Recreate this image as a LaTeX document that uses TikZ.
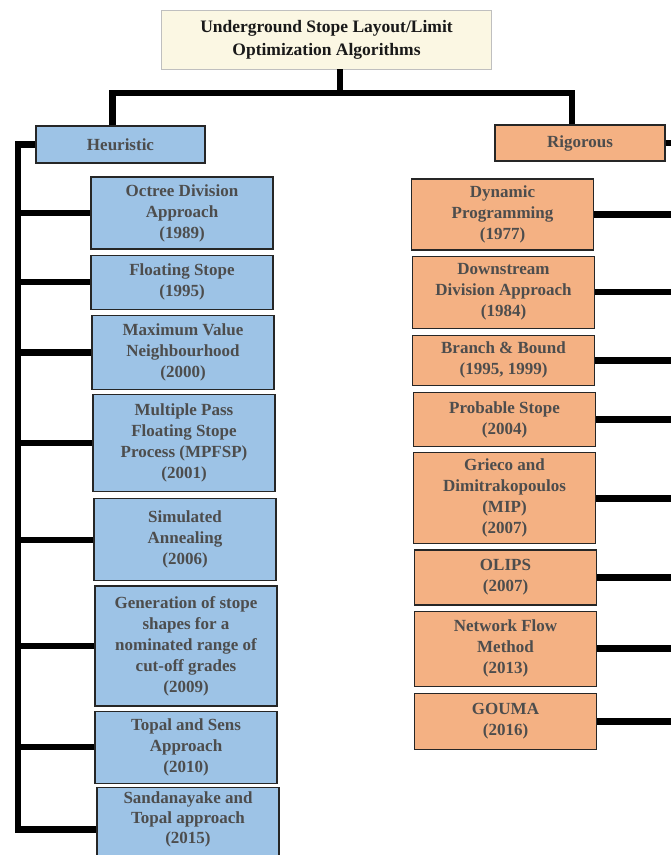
\documentclass[tikz,border=0pt]{standalone}
\usepackage{fontspec}
\setmainfont{Liberation Serif}
\usetikzlibrary{positioning}

\definecolor{heurblue}{HTML}{9DC3E6}
\definecolor{rigsalmon}{HTML}{F4B183}
\definecolor{titlecream}{HTML}{FBF7E3}
\definecolor{boxtext}{HTML}{4D4D4D}

\begin{document}
\begin{tikzpicture}[
    x = 1pt, y = -1pt, % pixel units, y running down
    font = \bfseries\fontsize{17}{21}\selectfont,
    link/.style = {draw, line width = 6.5pt}, % thick black tree lines
    line join = miter
    ]

    \tikzset{algo/.style = {
    draw = black!85,
    line width = 1.2pt,
    fill = white,
    text = boxtext,
    align = center,
    inner sep = 0pt,
    minimum width = 182pt
    }}
    \tikzset{heur/.style = {algo, fill = heurblue}}
    \tikzset{rig/.style = {algo, fill = rigsalmon}}

    \useasboundingbox (0,0) rectangle (671,855);

    % root and the two families
    \node[draw = black!25, fill = titlecream, text = black!90, align = center,
          minimum width = 330pt, minimum height = 59pt,
          font = \bfseries\fontsize{17.5}{23}\selectfont] (root) at (326.5,39.5)
          {Underground Stope Layout/Limit\\Optimization Algorithms};
    \node[heur, minimum width = 169pt, minimum height = 37pt] (heu) at (120.5,144.5) {Heuristic};
    \node[rig, minimum width = 170pt, minimum height = 36pt] (rig) at (580,143) {Rigorous};

    % heuristic column
    \node[heur, minimum height = 72pt] (oct) at (182,213) {Octree Division\\Approach\\(1989)};
    \node[heur, minimum height = 54pt] (flo) [below = 5pt of oct] {Floating Stope\\(1995)};
    \node[heur, minimum height = 74pt] (mvn) [below = 5pt of flo, xshift = 1pt] {Maximum Value\\Neighbourhood\\(2000)};
    \node[heur, minimum height = 97pt] (mpf) [below = 4pt of mvn, xshift = 1pt] {Multiple Pass\\Floating Stope\\Process (MPFSP)\\(2001)};
    \node[heur, minimum height = 82pt] (sim) [below = 6pt of mpf, xshift = 1pt] {Simulated\\Annealing\\(2006)};
    \node[heur, minimum height = 120pt] (gen) [below = 4pt of sim, xshift = 1pt] {Generation of stope\\shapes for a\\nominated range of\\cut-off grades\\(2009)};
    \node[heur, minimum height = 72pt] (tsa) [below = 4pt of gen] {Topal and Sens\\Approach\\(2010)};
    \node[heur, minimum height = 84pt, font = \bfseries\fontsize{17}{20}\selectfont] (sta) [below = 3pt of tsa, xshift = 2pt]
          {Sandanayake and\\Topal approach\\(2015)\\[4pt]};

    % rigorous column
    \node[rig, minimum height = 71pt] (dyn) at (502.5,214.5) {Dynamic\\Programming\\(1977)};
    \node[rig, minimum height = 72pt] (dda) [below = 5pt of dyn, xshift = 1pt] {Downstream\\Division Approach\\(1984)};
    \node[rig, minimum height = 50pt] (bab) [below = 6pt of dda] {Branch \& Bound\\(1995, 1999)};
    \node[rig, minimum height = 54pt] (pst) [below = 6pt of bab, xshift = 1pt] {Probable Stope\\(2004)};
    \node[rig, minimum height = 91pt] (gad) [below = 5pt of pst] {Grieco and\\Dimitrakopoulos\\(MIP)\\(2007)};
    \node[rig, minimum height = 55pt] (oli) [below = 5pt of gad, xshift = 1pt] {OLIPS\\(2007)};
    \node[rig, minimum height = 75pt] (nfm) [below = 5pt of oli] {Network Flow\\Method\\(2013)};
    \node[rig, minimum height = 56pt] (gou) [below = 6pt of nfm] {GOUMA\\(2016)};

    % tree lines
    \coordinate (fork) at (340,93);
    \coordinate (ltrunk) at (18,0);
    \coordinate (rtrunk) at (675,0);

    \draw[link] (fork |- root.south) -- (fork);
    \draw[link] ([xshift = -8pt]heu.north) |- (fork) -| ([xshift = -8pt]rig.north);

    \draw[link] (heu.west) -| (ltrunk |- sta.west) -- (sta.west);
    \draw[link] (oct.west) -- (oct.west -| ltrunk);
    \draw[link] (flo.west) -- (flo.west -| ltrunk);
    \draw[link] (mvn.west) -- (mvn.west -| ltrunk);
    \draw[link] (mpf.west) -- (mpf.west -| ltrunk);
    \draw[link] (sim.west) -- (sim.west -| ltrunk);
    \draw[link] (gen.west) -- (gen.west -| ltrunk);
    \draw[link] (tsa.west) -- (tsa.west -| ltrunk);

    \draw[link] (rig.east) -| (rtrunk |- gou.east) -- (gou.east);
    \draw[link] (dyn.east) -- (dyn.east -| rtrunk);
    \draw[link] (dda.east) -- (dda.east -| rtrunk);
    \draw[link] (bab.east) -- (bab.east -| rtrunk);
    \draw[link] (pst.east) -- (pst.east -| rtrunk);
    \draw[link] (gad.east) -- (gad.east -| rtrunk);
    \draw[link] (oli.east) -- (oli.east -| rtrunk);
    \draw[link] (nfm.east) -- (nfm.east -| rtrunk);
\end{tikzpicture}
\end{document}
